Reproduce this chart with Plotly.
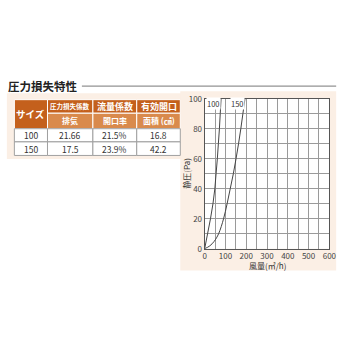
import plotly.graph_objects as go

# ---- data ----
size_labels = ["100", "150"]
loss_coef = ["21.66", "17.5"]
open_ratio = ["21.5%", "23.9%"]
open_area = ["16.8", "42.2"]
header_top = ["サイズ", "圧力損失係数", "流量係数", "有効開口"]
header_sub = ["排気", "開口率", "面積 (㎠)"]

flow_100 = [0, 14, 28, 40, 49, 55, 61, 66, 71, 75, 79]
pres_100 = [0, 10, 20, 30, 40, 50, 60, 70, 80, 90, 100]
flow_150 = [0, 25, 46, 67, 91, 108, 123, 138, 151, 163, 174, 184, 194]
pres_150 = [0, 2, 5, 10, 20, 30, 40, 50, 60, 70, 80, 90, 100]

x_ticks = [0, 100, 200, 300, 400, 500, 600]
y_ticks = [0, 20, 40, 60, 80, 100]

W = H = 350
def X(p): return p / W
def Y(p): return 1 - p / H

FONT = "Noto Sans CJK JP"
BEIGE = "#fbefe5"
DARK_OR = "#c4601c"
LIGHT_OR = "#d98a4c"
GRID = "#9a9a9a"

fig = go.Figure()
fig.add_trace(go.Scatter(x=flow_100, y=pres_100, mode="lines",
                         line=dict(color="#444", width=1, shape="spline"),
                         hoverinfo="skip", showlegend=False, cliponaxis=True))
fig.add_trace(go.Scatter(x=flow_150, y=pres_150, mode="lines",
                         line=dict(color="#444", width=1, shape="spline"),
                         hoverinfo="skip", showlegend=False, cliponaxis=True))

shapes = []
ann = []

def text(t, x, y, size, color="#333", **kw):
    d = dict(text=t, xref="paper", yref="paper", x=x, y=y, xanchor="center", yanchor="middle",
             showarrow=False, font=dict(family=FONT, size=size, color=color))
    d.update(kw)
    ann.append(d)

# background panels
shapes.append(dict(type="rect", xref="paper", yref="paper", x0=X(5), x1=X(186), y0=Y(158), y1=Y(90),
                   fillcolor=BEIGE, line=dict(width=0), layer="below"))
shapes.append(dict(type="rect", xref="paper", yref="paper", x0=X(183), x1=X(343), y0=Y(273), y1=Y(88),
                   fillcolor=BEIGE, line=dict(width=0), layer="below"))
shapes.append(dict(type="rect", xref="paper", yref="paper", x0=X(208), x1=X(336), y0=Y(250.7), y1=Y(95.7),
                   fillcolor="white", line=dict(width=0), layer="below"))

# title
text("<b>圧力損失特性</b>", X(4), Y(82.5), 11.5, "#222", xanchor="left")
shapes.append(dict(type="line", xref="paper", yref="paper", x0=X(82), x1=X(343), y0=Y(82.7), y1=Y(82.7),
                   line=dict(color="#777", width=1)))

# table geometry
cols = [12.7, 46.7, 93.3, 138.3, 183]
rows = [96.7, 110.7, 126.7, 140.3, 154.3]

shapes.append(dict(type="rect", xref="paper", yref="paper", x0=X(cols[0]), x1=X(cols[1]),
                   y0=Y(rows[2]), y1=Y(rows[0]), fillcolor=DARK_OR, line=dict(color="white", width=1)))
for i in range(1, 4):
    shapes.append(dict(type="rect", xref="paper", yref="paper", x0=X(cols[i]), x1=X(cols[i + 1]),
                       y0=Y(rows[1]), y1=Y(rows[0]), fillcolor=DARK_OR, line=dict(color="white", width=1)))
    shapes.append(dict(type="rect", xref="paper", yref="paper", x0=X(cols[i]), x1=X(cols[i + 1]),
                       y0=Y(rows[2]), y1=Y(rows[1]), fillcolor=LIGHT_OR, line=dict(color="white", width=1)))
for r in range(2):
    for c in range(4):
        shapes.append(dict(type="rect", xref="paper", yref="paper", x0=X(cols[c]), x1=X(cols[c + 1]),
                           y0=Y(rows[3 + r]), y1=Y(rows[2 + r]), fillcolor="white",
                           line=dict(color="#a0a0a0", width=1)))

def cx(c): return X((cols[c] + cols[c + 1]) / 2)
def cy(r0, r1): return Y((rows[r0] + rows[r1]) / 2)

text("<b>" + header_top[0] + "</b>", cx(0), cy(0, 2), 9.5, "white")
top_sizes = [6.5, 9, 9]
for i in range(1, 4):
    text("<b>" + header_top[i] + "</b>", cx(i), cy(0, 1), top_sizes[i - 1], "white")
    text("<b>" + header_sub[i - 1] + "</b>", cx(i), cy(1, 2), 8, "white")
for r in range(2):
    vals = [size_labels[r], loss_coef[r], open_ratio[r], open_area[r]]
    for c in range(4):
        text(vals[c], cx(c), cy(2 + r, 3 + r), 8.5, "#333")

# curve labels
ann.append(dict(text="100", x=44, y=97, xref="x", yref="y", xanchor="center", yanchor="middle",
                showarrow=False, bgcolor="white", borderpad=0,
                font=dict(family=FONT, size=7.5, color="#333")))
ann.append(dict(text="150", x=157, y=97, xref="x", yref="y", xanchor="center", yanchor="middle",
                showarrow=False, bgcolor="white", borderpad=0,
                font=dict(family=FONT, size=7.5, color="#333")))

# axis titles
text("静圧(Pa)", X(189), Y(173), 8, "#333", textangle=-90)
text("風量(㎥/h)", X(272), Y(267.5), 8, "#333")

fig.update_layout(
    width=W, height=H, margin=dict(l=0, r=0, t=0, b=0),
    paper_bgcolor="white", plot_bgcolor="rgba(0,0,0,0)",
    shapes=shapes, annotations=ann,
    xaxis=dict(domain=[X(208), X(336)], range=[0, 600], tickvals=x_ticks,
               showgrid=True, gridcolor=GRID, gridwidth=1,
               minor=dict(dtick=50, tick0=0, showgrid=True, gridcolor=GRID, gridwidth=1),
               showline=True, mirror=True, linecolor="#555", linewidth=1,
               zeroline=False, ticks="", ticklen=0,
               tickfont=dict(family=FONT, size=8, color="#444"), fixedrange=True),
    yaxis=dict(domain=[Y(250.7), Y(95.7)], range=[0, 100], tickvals=y_ticks,
               showgrid=True, gridcolor=GRID, gridwidth=1,
               minor=dict(dtick=10, tick0=0, showgrid=True, gridcolor=GRID, gridwidth=1),
               showline=True, mirror=True, linecolor="#555", linewidth=1,
               zeroline=False, ticks="", ticklen=0,
               tickfont=dict(family=FONT, size=8, color="#444"), fixedrange=True),
)

fig.write_html("out.html")
